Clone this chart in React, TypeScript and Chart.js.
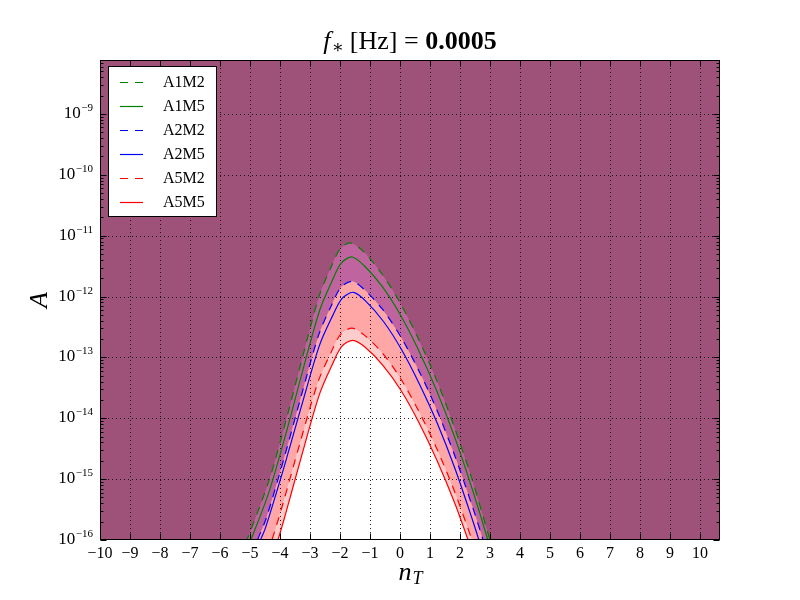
import { useEffect, useRef } from "react";
import { Chart, registerables } from "chart.js";

Chart.register(...registerables);

// ---- data (n_T positions and log10 A values) ----
const nA1M2 = [-5.5, -5.1, -4.35, -3.78, -3.25, -2.7, -2.3, -2.0, -1.65, -1.2, -0.6, 0, 0.6, 1.2, 1.8, 2.4, 3.0, 3.25];
const logA1M2 = [-16.5, -16, -15, -14, -13, -12, -11.52, -11.22, -11.12, -11.27, -11.63, -12.1, -12.68, -13.35, -14.13, -15.0, -16, -16.4];

const nA1M5 = [-5.4, -4.97, -4.38, -3.79, -3.25, -2.68, -2.27, -1.96, -1.6, -1.2, -0.6, 0, 0.6, 1.2, 1.8, 2.4, 2.93, 3.15];
const logA1M5 = [-16.55, -16, -15.23, -14.23, -13.23, -12.23, -11.75, -11.45, -11.35, -11.49, -11.83, -12.29, -12.86, -13.52, -14.28, -15.15, -16, -16.38];

const nA2M2 = [-5.1, -4.75, -4.45, -3.85, -3.29, -2.71, -2.29, -1.97, -1.6, -1.2, -0.6, 0, 0.6, 1.2, 1.8, 2.4, 2.77, 3.0];
const logA2M2 = [-16.45, -16, -15.63, -14.63, -13.63, -12.63, -12.15, -11.85, -11.75, -11.88, -12.2, -12.64, -13.19, -13.83, -14.58, -15.43, -16, -16.38];

const nA2M5 = [-5.0, -4.65, -4.49, -3.87, -3.29, -2.69, -2.26, -1.93, -1.55, -1.15, -0.55, 0.05, 0.65, 1.25, 1.85, 2.45, 2.63, 2.85];
const logA2M5 = [-16.45, -16, -15.81, -14.81, -13.81, -12.81, -12.33, -12.03, -11.93, -12.07, -12.41, -12.87, -13.44, -14.09, -14.85, -15.72, -16, -16.35];

const nA5M2 = [-4.6, -4.27, -3.9, -3.33, -2.73, -2.3, -1.98, -1.6, -1.2, -0.6, 0, 0.6, 1.2, 1.8, 2.4, 2.6];
const logA5M2 = [-16.45, -16, -15.4, -14.4, -13.4, -12.92, -12.62, -12.52, -12.63, -12.92, -13.33, -13.86, -14.47, -15.18, -16, -16.3];

const nA5M5 = [-4.4, -4.07, -3.83, -3.27, -2.68, -2.26, -1.94, -1.57, -1.17, -0.57, 0.03, 0.63, 1.23, 1.83, 2.27, 2.47];
const logA5M5 = [-16.45, -16, -15.6, -14.6, -13.6, -13.12, -12.82, -12.72, -12.83, -13.13, -13.54, -14.07, -14.69, -15.4, -16, -16.29];

const seriesNames = ["A1M2", "A1M5", "A2M2", "A2M5", "A5M2", "A5M5"];
const seriesN = [nA1M2, nA1M5, nA2M2, nA2M5, nA5M2, nA5M5];
const seriesLog = [logA1M2, logA1M5, logA2M2, logA2M5, logA5M2, logA5M5];
const seriesColors = ["#008000", "#008000", "#0000ff", "#0000ff", "#ff0000", "#ff0000"];
const seriesDashed = [true, false, true, false, true, false];

// fill layers: boundary series index and colour (region above the boundary)
const fillSeries = [0, 2, 4, 5];
const fillColors = ["#9e5279", "#c0649f", "#ffa6a6", "#ffcccc"];

const xTicks = [-10, -9, -8, -7, -6, -5, -4, -3, -2, -1, 0, 1, 2, 3, 4, 5, 6, 7, 8, 9, 10];
const yDecades = [-16, -15, -14, -13, -12, -11, -10, -9];
const yMinorFactors = [2, 3, 4, 5, 6, 7, 8, 9];

const X_MIN = -10;
const X_MAX = 10.667;
const Y_MIN = 1e-16;
const Y_MAX = 7.7e-9;

const SERIF = '"Liberation Serif", "DejaVu Serif", serif';
const TENSION = 0.3;

function pts(ns: number[], logs: number[]) {
  return ns.map((n, i) => ({ x: n, y: Math.pow(10, logs[i]) }));
}

function fmtMinus(v: number) {
  return v < 0 ? "\u2212" + Math.abs(v) : String(v);
}

const mplPlugin = {
  id: "mplAxes",
  afterDatasetDraw(chart: any, args: any) {
    if (args.index !== seriesNames.length) return;
    const { ctx, chartArea: a } = chart;
    const xs = chart.scales.x;
    const ys = chart.scales.y;
    ctx.save();
    ctx.beginPath();
    ctx.rect(a.left, a.top, a.right - a.left, a.bottom - a.top);
    ctx.clip();
    ctx.strokeStyle = "rgba(0,0,0,0.85)";
    ctx.lineWidth = 1;
    ctx.setLineDash([1, 3]);
    for (const t of xTicks) {
      const px = Math.round(xs.getPixelForValue(t)) + 0.5;
      ctx.beginPath();
      ctx.moveTo(px, a.top);
      ctx.lineTo(px, a.bottom);
      ctx.stroke();
    }
    for (const d of yDecades) {
      const py = Math.round(ys.getPixelForValue(Math.pow(10, d))) + 0.5;
      ctx.beginPath();
      ctx.moveTo(a.left, py);
      ctx.lineTo(a.right, py);
      ctx.stroke();
    }
    ctx.restore();
  },
  afterDraw(chart: any) {
    const { ctx, chartArea: a } = chart;
    const xs = chart.scales.x;
    const ys = chart.scales.y;
    ctx.save();
    ctx.setLineDash([]);
    ctx.strokeStyle = "#000";
    ctx.lineWidth = 1;
    const L = a.left + 0.5, R = a.right - 0.5, T = a.top + 0.5, B = a.bottom - 0.5;
    // ticks
    const MAJ = 6, MIN = 3;
    ctx.beginPath();
    for (const t of xTicks) {
      const px = Math.round(xs.getPixelForValue(t)) + 0.5;
      ctx.moveTo(px, B); ctx.lineTo(px, B - MAJ);
      ctx.moveTo(px, T); ctx.lineTo(px, T + MAJ);
    }
    for (const d of yDecades) {
      const py = Math.round(ys.getPixelForValue(Math.pow(10, d))) + 0.5;
      ctx.moveTo(L, py); ctx.lineTo(L + MAJ, py);
      ctx.moveTo(R, py); ctx.lineTo(R - MAJ, py);
      for (const f of yMinorFactors) {
        const v = f * Math.pow(10, d);
        if (v > Y_MAX) continue;
        const pm = Math.round(ys.getPixelForValue(v)) + 0.5;
        ctx.moveTo(L, pm); ctx.lineTo(L + MIN, pm);
        ctx.moveTo(R, pm); ctx.lineTo(R - MIN, pm);
      }
    }
    ctx.stroke();
    // frame
    ctx.strokeRect(L, T, R - L, B - T);

    // x tick labels
    ctx.fillStyle = "#000";
    ctx.font = `16px ${SERIF}`;
    ctx.textAlign = "center";
    ctx.textBaseline = "alphabetic";
    for (const t of xTicks) {
      const px = xs.getPixelForValue(t);
      ctx.fillText(fmtMinus(t), px, a.bottom + 18);
    }
    // y tick labels 10^{d}
    for (const d of yDecades) {
      const py = ys.getPixelForValue(Math.pow(10, d));
      const exp = fmtMinus(d);
      ctx.font = `11px ${SERIF}`;
      const ew = ctx.measureText(exp).width;
      ctx.textAlign = "right";
      ctx.fillText(exp, a.left - 7, py - 3);
      ctx.font = `17px ${SERIF}`;
      ctx.fillText("10", a.left - 7 - ew - 0.5, py + 4);
    }

    // y axis label
    ctx.save();
    ctx.translate(47, 300);
    ctx.rotate(-Math.PI / 2);
    ctx.font = `italic 26px ${SERIF}`;
    ctx.textAlign = "center";
    ctx.textBaseline = "alphabetic";
    ctx.fillText("A", 0, 0);
    ctx.restore();

    // x axis label n_T
    ctx.textAlign = "left";
    ctx.font = `italic 26px ${SERIF}`;
    const nw = ctx.measureText("n").width;
    ctx.font = `italic 18px ${SERIF}`;
    const tw = ctx.measureText("T").width;
    const sx = (a.left + a.right) / 2 - (nw + tw) / 2;
    ctx.font = `italic 26px ${SERIF}`;
    ctx.fillText("n", sx, 580);
    ctx.font = `italic 18px ${SERIF}`;
    ctx.fillText("T", sx + nw + 1, 584);

    // title: f_* [Hz] = 0.0005
    const parts = [
      { t: "f", f: `italic 26px ${SERIF}`, dy: 0, gap: 1 },
      { t: "\u2217", f: `18px ${SERIF}`, dy: 4, gap: 6 },
      { t: "[Hz]", f: `26px ${SERIF}`, dy: 0, gap: 0 },
      { t: " = ", f: `26px ${SERIF}`, dy: 0, gap: 0 },
      { t: "0.0005", f: `bold 26px ${SERIF}`, dy: 0, gap: 0 },
    ];
    let total = 0;
    for (const p of parts) { ctx.font = p.f; total += ctx.measureText(p.t).width + p.gap; }
    let cx = (a.left + a.right) / 2 - total / 2;
    for (const p of parts) {
      ctx.font = p.f;
      ctx.fillText(p.t, cx, 49 + p.dy);
      cx += ctx.measureText(p.t).width + p.gap;
    }

    // legend
    const bx = 108.5, by = 66.5, bw = 108, bh = 150;
    ctx.fillStyle = "#fff";
    ctx.fillRect(bx, by, bw, bh);
    ctx.strokeStyle = "#000";
    ctx.lineWidth = 1;
    ctx.strokeRect(bx, by, bw, bh);
    ctx.font = `16px ${SERIF}`;
    ctx.textAlign = "left";
    ctx.textBaseline = "middle";
    for (let i = 0; i < seriesNames.length; i++) {
      const ry = 82 + i * 24;
      ctx.strokeStyle = seriesColors[i];
      ctx.lineWidth = 1.2;
      ctx.setLineDash(seriesDashed[i] ? [8, 7] : []);
      ctx.beginPath();
      ctx.moveTo(120, ry + 0.5);
      ctx.lineTo(143, ry + 0.5);
      ctx.stroke();
      ctx.setLineDash([]);
      ctx.fillStyle = "#000";
      ctx.fillText(seriesNames[i], 163, ry + 1);
    }
    ctx.restore();
  },
};

export default function App() {
  const ref = useRef<HTMLCanvasElement | null>(null);
  useEffect(() => {
    document.body.style.margin = "0";
    const canvas = ref.current;
    if (!canvas) return;
    const lineSets = seriesNames.map((name, i) => ({
      label: name,
      data: pts(seriesN[i], seriesLog[i]),
      borderColor: seriesColors[i],
      borderWidth: 1.2,
      borderDash: seriesDashed[i] ? [8, 7] : [],
      pointRadius: 0,
      fill: false,
      tension: TENSION,
    }));
    const fillSets = fillSeries.map((si, k) => ({
      label: "fill" + k,
      data: [
        { x: -10.5, y: 1e-20 },
        ...pts(seriesN[si], seriesLog[si]),
        { x: 11, y: 1e-20 },
      ],
      borderWidth: 0,
      borderColor: "rgba(0,0,0,0)",
      backgroundColor: fillColors[k],
      pointRadius: 0,
      fill: "end",
      tension: TENSION,
    }));
    const chart = new Chart(canvas, {
      type: "line",
      data: { datasets: [...lineSets, ...fillSets] as any },
      options: {
        responsive: false,
        animation: false,
        events: [],
        layout: { padding: { left: 100, top: 60, right: 80, bottom: 60 } },
        scales: {
          x: { type: "linear", min: X_MIN, max: X_MAX, display: false },
          y: { type: "logarithmic", min: Y_MIN, max: Y_MAX, display: false },
        },
        plugins: {
          legend: { display: false },
          title: { display: false },
          tooltip: { enabled: false },
        },
      },
      plugins: [mplPlugin],
    });
    return () => chart.destroy();
  }, []);
  return (
    <div style={{ width: 800, height: 600, position: "absolute", left: 0, top: 0, background: "#fff" }}>
      <canvas ref={ref} width={800} height={600} />
    </div>
  );
}
